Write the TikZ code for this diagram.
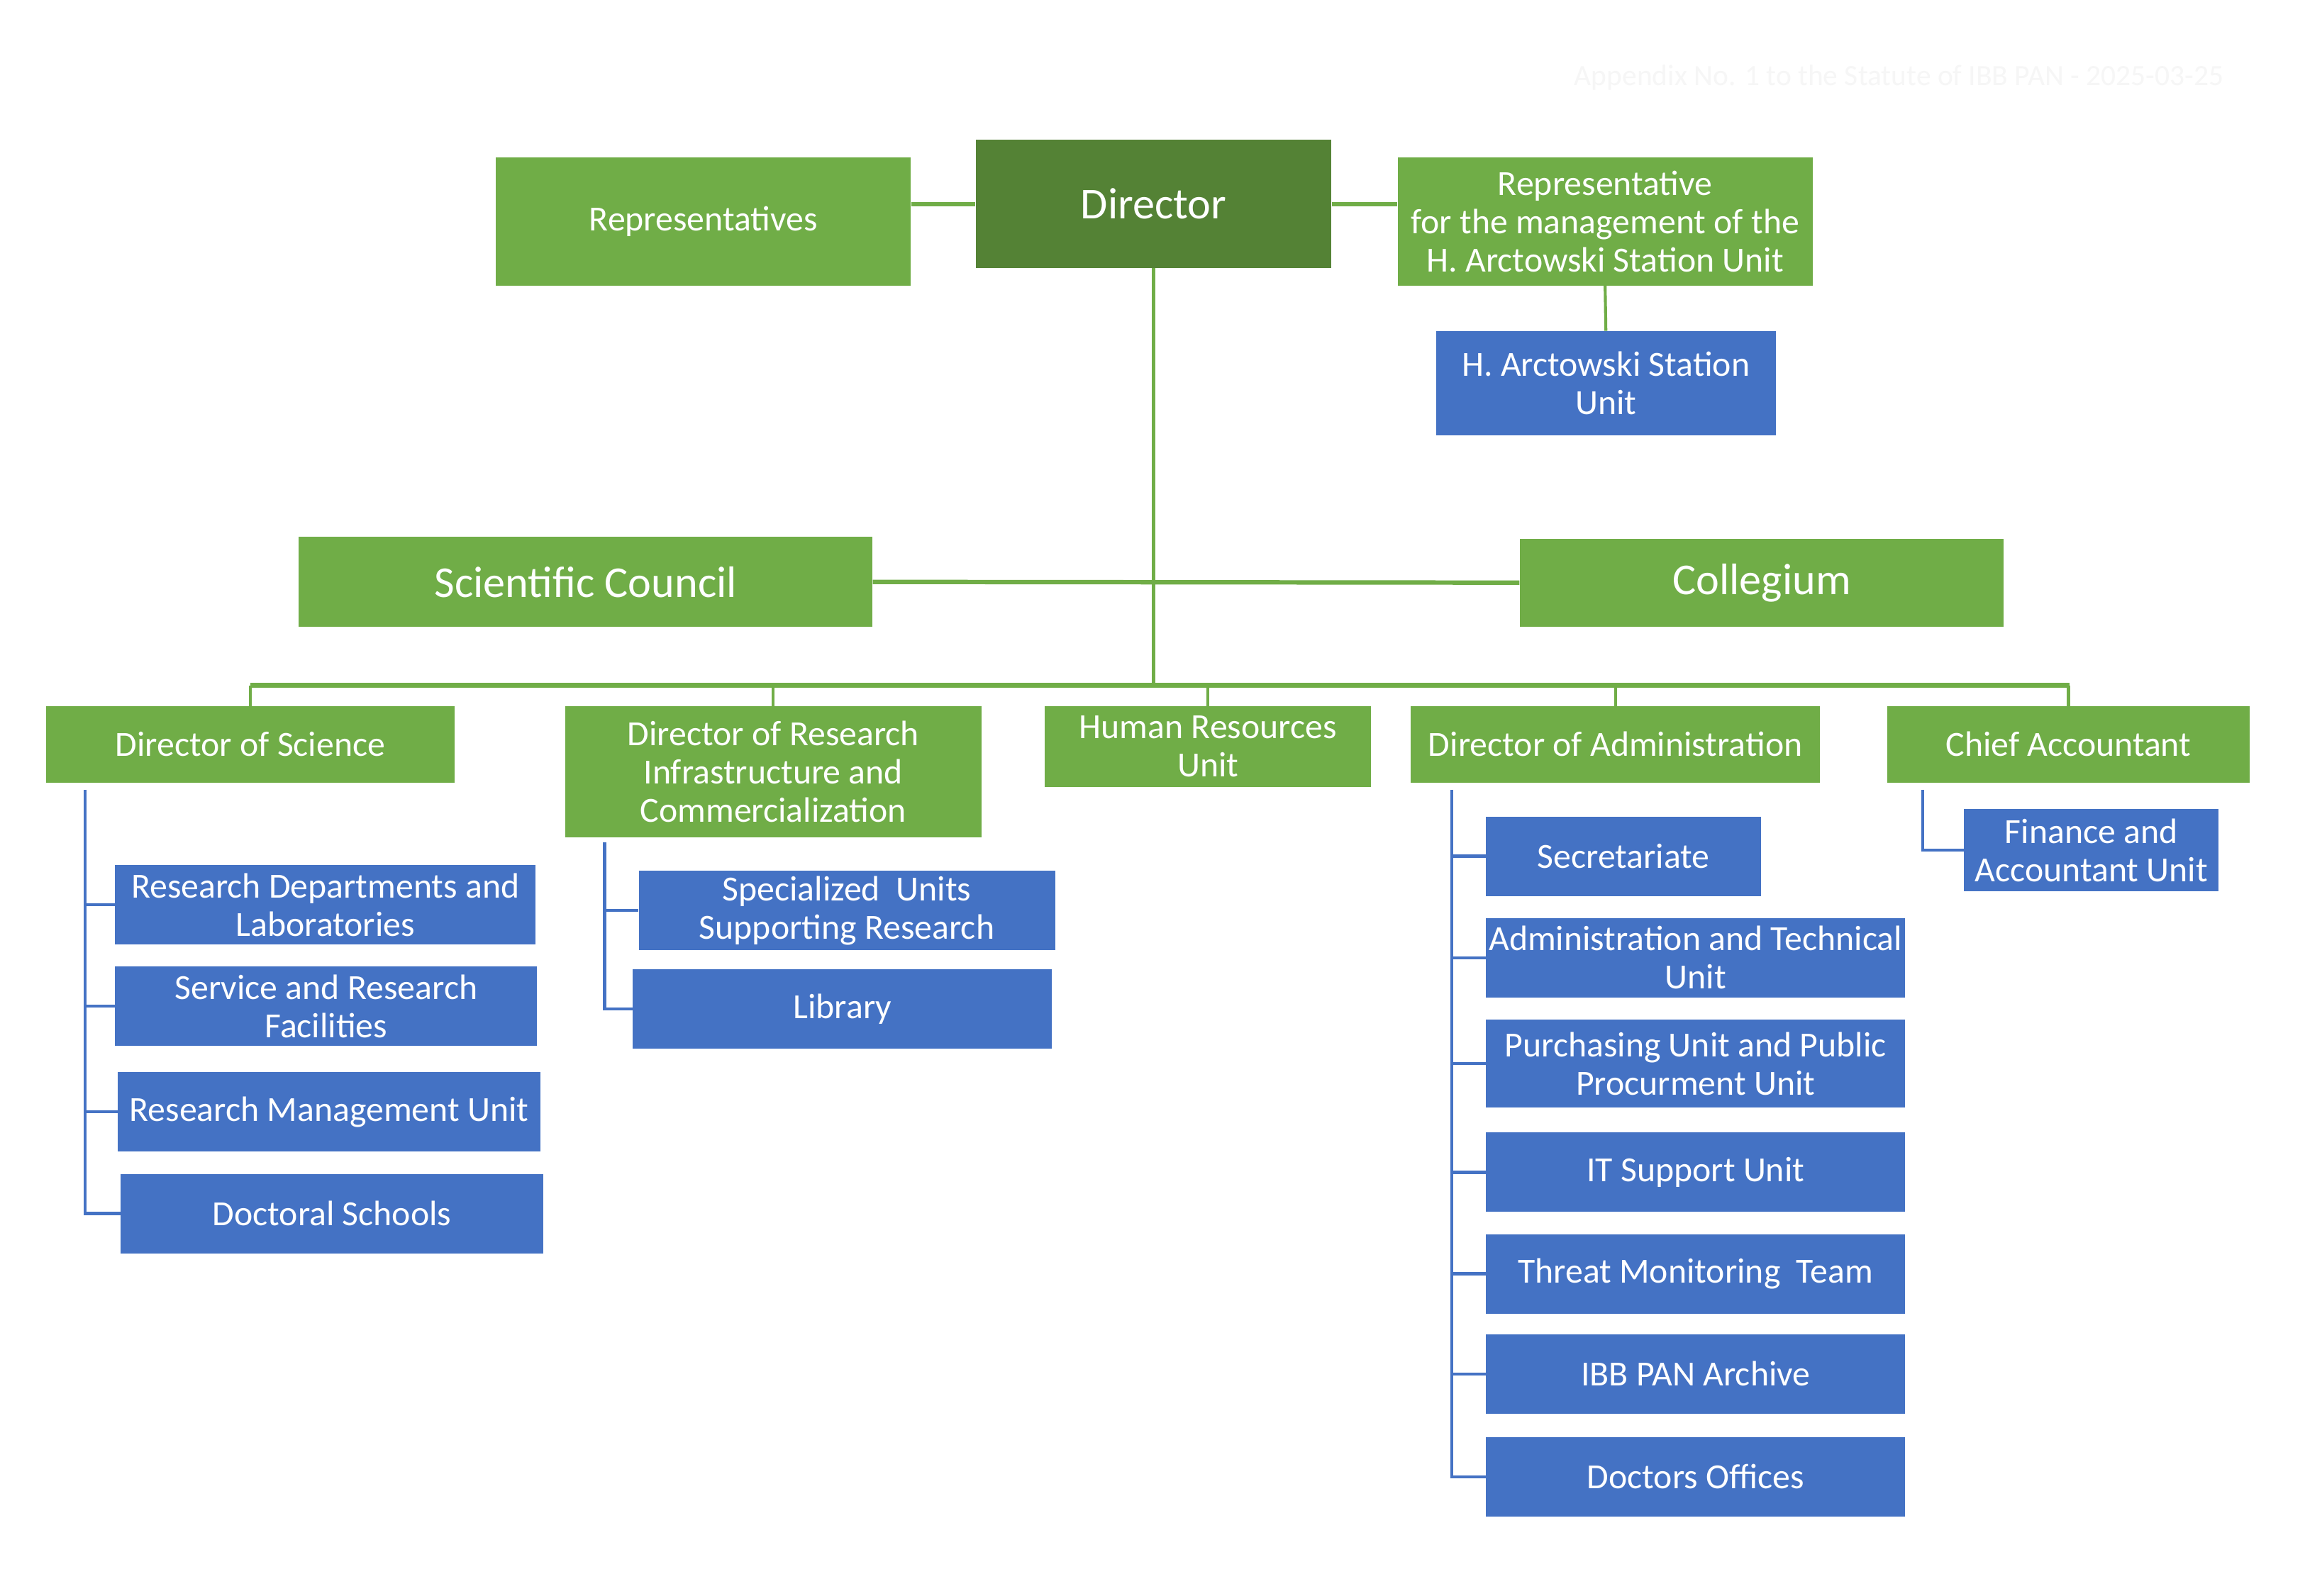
\documentclass[tikz,border=0pt]{standalone}
\usepackage{fontspec}
\setmainfont{Carlito}
\definecolor{gfill}{HTML}{70AD47}
\definecolor{dgfill}{HTML}{548235}
\definecolor{bfill}{HTML}{4472C4}
\definecolor{faint}{HTML}{F6F6F6}
\tikzset{
  box/.style={anchor=north west, inner sep=0pt, align=center, text=white,
    font=\fontsize{24}{26}\selectfont},
  gbox/.style={box, fill=gfill},
  dbox/.style={box, fill=dgfill, font=\fontsize{30}{32}\selectfont},
  bigbox/.style={box, fill=gfill, font=\fontsize{30}{32}\selectfont},
  bbox/.style={box, fill=bfill},
  gline/.style={draw=gfill, line width=2pt},
  gthick/.style={draw=gfill, line width=3pt},
  bline/.style={draw=bfill, line width=2pt},
}
\begin{document}
\begin{tikzpicture}[x=1pt,y=-1pt]
\fill[white] (0,0) rectangle (1567,1085);
\useasboundingbox (0,0) rectangle (1567,1085);

\node[text=faint, font=\fontsize{20}{22}\selectfont] (app) at (1291,53) {Appendix No. 1 to the Statute of IBB PAN - 2025-03-25};

% top row
\node[gbox, minimum width=282pt, minimum height=87pt] (rep) at (337,107) {Representatives};
\node[dbox, minimum width=242pt, minimum height=87pt] (dir) at (663,95) {Director};
\node[gbox, minimum width=282pt, minimum height=87pt] (repa) at (950,107) {Representative\\for the management of the\\H. Arctowski Station Unit};
\node[bbox, minimum width=231pt, minimum height=71pt] (arct) at (976,225) {H. Arctowski Station\\Unit};

% councils
\node[bigbox, minimum width=390pt, minimum height=61pt] (sci) at (203,365) {Scientific Council};
\node[bigbox, minimum width=329pt, minimum height=60pt] (col) at (1033,366) {Collegium};

% second row
\node[gbox, minimum width=278pt, minimum height=52pt] (dsci) at (31,480) {Director of Science};
\node[gbox, minimum width=283pt, minimum height=89pt] (dres) at (384,480) {Director of Research\\Infrastructure and\\Commercialization};
\node[gbox, minimum width=222pt, minimum height=55pt] (hr) at (710,480) {Human Resources\\Unit};
\node[gbox, minimum width=278pt, minimum height=52pt] (dadm) at (959,480) {Director of Administration};
\node[gbox, minimum width=246pt, minimum height=52pt] (chief) at (1283,480) {Chief Accountant};

% science units
\node[bbox, minimum width=286pt, minimum height=54pt] (rdl) at (78,588) {Research Departments and\\Laboratories};
\node[bbox, minimum width=287pt, minimum height=54pt] (srf) at (78,657) {Service and Research\\Facilities};
\node[bbox, minimum width=287pt, minimum height=54pt] (rmu) at (80,729) {Research Management Unit};
\node[bbox, minimum width=287pt, minimum height=54pt] (dsch) at (82,798) {Doctoral Schools};

% research infrastructure units
\node[bbox, minimum width=283pt, minimum height=54pt] (spec) at (434,592) {Specialized\ \ Units\\Supporting Research};
\node[bbox, minimum width=285pt, minimum height=54pt] (lib) at (430,659) {Library};

% administration units
\node[bbox, minimum width=187pt, minimum height=54pt] (secr) at (1010,555) {Secretariate};
\node[bbox, minimum width=285pt, minimum height=54pt] (adt) at (1010,624) {Administration and Technical\\Unit};
\node[bbox, minimum width=285pt, minimum height=60pt] (pur) at (1010,693) {Purchasing Unit and Public\\Procurment Unit};
\node[bbox, minimum width=285pt, minimum height=54pt] (it) at (1010,770) {IT Support Unit};
\node[bbox, minimum width=285pt, minimum height=54pt] (thr) at (1010,839) {Threat Monitoring\ \ Team};
\node[bbox, minimum width=285pt, minimum height=54pt] (arch) at (1010,907) {IBB PAN Archive};
\node[bbox, minimum width=285pt, minimum height=54pt] (doc) at (1010,977) {Doctors Offices};

% finance
\node[bbox, minimum width=173pt, minimum height=56pt] (fin) at (1335,550) {Finance and\\Accountant Unit};

% connectors top
\draw[gthick] (dir.west) -- (dir.west -| rep.east);
\draw[gthick] (dir.east) -- (dir.east -| repa.west);
\draw[gline] (repa.south) -- (arct.north);

% main trunk and bus
\coordinate (busL) at (170,466);
\coordinate (busR) at (1407,466);
\draw[gline] (dir.south) -- (dir.south |- busL);
\draw[gthick] (sci.east) -- (col.west);
\draw[gthick] (busL) -- (busR);
\draw[gline] (dsci.north |- busL) -- (dsci.north);
\draw[gline] (dres.north |- busL) -- (dres.north);
\draw[gline] (hr.north |- busL) -- (hr.north);
\draw[gline] (dadm.north |- busL) -- (dadm.north);
\draw[gline] (chief.north |- busL) -- (chief.north);

% science tree
\coordinate (sciT) at (58,537);
\draw[bline] (sciT) |- (dsch.west);
\draw[bline] (sciT |- rdl.west) -- (rdl.west);
\draw[bline] (sciT |- srf.west) -- (srf.west);
\draw[bline] (sciT |- rmu.west) -- (rmu.west);

% research infrastructure tree
\coordinate (resT) at (411,573);
\draw[bline] (resT) |- (lib.west);
\draw[bline] (resT |- spec.west) -- (spec.west);

% administration tree
\coordinate (admT) at (987,537);
\draw[bline] (admT) |- (doc.west);
\draw[bline] (admT |- secr.west) -- (secr.west);
\draw[bline] (admT |- adt.west) -- (adt.west);
\draw[bline] (admT |- pur.west) -- (pur.west);
\draw[bline] (admT |- it.west) -- (it.west);
\draw[bline] (admT |- thr.west) -- (thr.west);
\draw[bline] (admT |- arch.west) -- (arch.west);

% finance tree
\coordinate (finT) at (1307,537);
\draw[bline] (finT) |- (fin.west);
\end{tikzpicture}
\end{document}
